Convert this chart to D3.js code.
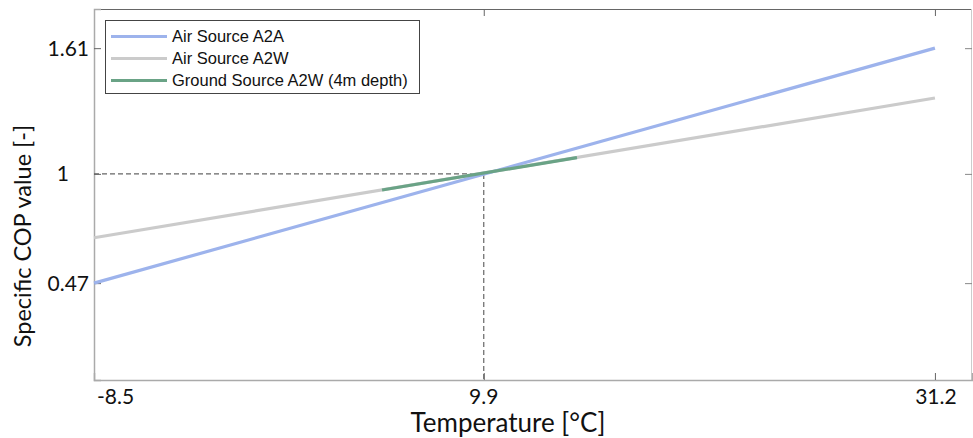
<!DOCTYPE html>
<html><head><meta charset="utf-8">
<script src="https://cdn.jsdelivr.net/npm/d3@7"></script>
<style>body{margin:0;background:#fff}svg{display:block}</style>
</head><body><svg id="c" width="973" height="438"></svg>
<script>
// Data
const xTicks = [-8.5, 9.9, 31.2];
const yTicks = [0.47, 1, 1.61];
const seriesNames = ["Air Source A2A", "Air Source A2W", "Ground Source A2W (4m depth)"];
const seriesColors = ["#9db3ec", "#cbcbcb", "#6aa386"];
const a2aX = [-8.5, 31.2];
const a2aY = [0.47, 1.61];
const a2wX = [-8.5, 31.2];
const a2wY = [0.69, 1.368];
const gsX = [5.1, 14.3];
const gsY = [0.922, 1.079];
const refX = 9.9, refY = 1;

const svg = d3.select("#c");
const L = 94, R = 972, T = 9, B = 380;
const x = d3.scaleLinear().domain([-8.5, 32.95]).range([L, R]);
const y = d3.scaleLinear().domain([0, 1.8]).range([B, T]);
const tickFont = "Lato, 'Open Sans', sans-serif";

// frame
svg.append("line").attr("x1", L).attr("x2", R).attr("y1", T + 0.5).attr("y2", T + 0.5).attr("stroke", "#666").attr("stroke-width", 1.2);
svg.append("line").attr("x1", R - 0.5).attr("x2", R - 0.5).attr("y1", T).attr("y2", B).attr("stroke", "#ccc");

// axes
const xAxis = d3.axisBottom(x).tickValues(xTicks).tickSize(-7).tickFormat("");
const gx = svg.append("g").attr("transform", `translate(0,${B})`).call(xAxis);
gx.select(".domain").attr("stroke", "#aaa").attr("stroke-width", 1.5);
gx.selectAll(".tick line").attr("stroke", "#666");
const xTop = d3.axisTop(x).tickValues(xTicks).tickSize(-7).tickFormat("");
const gxt = svg.append("g").attr("transform", `translate(0,${T})`).call(xTop);
gxt.select(".domain").remove();
gxt.selectAll(".tick line").attr("stroke", "#666");

const yAxis = d3.axisLeft(y).tickValues(yTicks).tickSize(-7).tickFormat("");
const gy = svg.append("g").attr("transform", `translate(${L},0)`).call(yAxis);
gy.select(".domain").attr("stroke", "#aaa").attr("stroke-width", 1.5);
gy.selectAll(".tick line").attr("stroke", "#666");
const yRight = d3.axisRight(y).tickValues(yTicks).tickSize(-7).tickFormat("");
const gyr = svg.append("g").attr("transform", `translate(${R},0)`).call(yRight);
gyr.select(".domain").remove();
gyr.selectAll(".tick line").attr("stroke", "#888");

// tick labels
const xLabelPos = {"-8.5": {dx: 3, anchor: "start"}, "9.9": {dx: 0, anchor: "middle"}, "31.2": {dx: 1, anchor: "middle"}};
xTicks.forEach(v => {
  const p = xLabelPos[String(v)];
  svg.append("text").attr("x", x(v) + p.dx).attr("y", 404).attr("text-anchor", p.anchor)
    .attr("font-family", tickFont).attr("font-size", 21).attr("fill", "#111").text(String(v));
});
const yLabelX = {"0.47": 89, "1": 69, "1.61": 89};
yTicks.forEach(v => {
  svg.append("text").attr("x", yLabelX[String(v)]).attr("y", y(v) + 7.5).attr("text-anchor", "end")
    .attr("font-family", tickFont).attr("font-size", 21).attr("fill", "#111").text(String(v));
});

// axis titles
svg.append("text").attr("x", 508).attr("y", 432).attr("text-anchor", "middle")
  .attr("font-family", tickFont).attr("font-size", 26).attr("fill", "#111").text("Temperature [°C]");
svg.append("text").attr("transform", "translate(31,236) rotate(-90)").attr("text-anchor", "middle")
  .attr("font-family", tickFont).attr("font-size", 23.5).attr("fill", "#111").text("Specific COP value [-]");

// dashed reference lines
svg.append("line").attr("x1", x(-8.5)).attr("x2", x(refX)).attr("y1", y(refY)).attr("y2", y(refY))
  .attr("stroke", "#666").attr("stroke-dasharray", "5,3").attr("stroke-width", 1.2);
svg.append("line").attr("x1", x(refX)).attr("x2", x(refX)).attr("y1", y(refY)).attr("y2", B)
  .attr("stroke", "#666").attr("stroke-dasharray", "5,3").attr("stroke-width", 1.2);

// series
const line = d3.line().x(d => x(d[0])).y(d => y(d[1]));
const series = [
  d3.zip(a2wX, a2wY),
  d3.zip(a2aX, a2aY),
  d3.zip(gsX, gsY)
];
const order = [1, 0, 2];
series.forEach((pts, i) => {
  svg.append("path").attr("d", line(pts)).attr("fill", "none")
    .attr("stroke", seriesColors[order[i]]).attr("stroke-width", 3.2);
});

// legend
const lg = svg.append("g");
lg.append("rect").attr("x", 105.5).attr("y", 20.5).attr("width", 314).attr("height", 73)
  .attr("fill", "#fff").attr("stroke", "#444").attr("stroke-width", 1);
seriesNames.forEach((n, i) => {
  const yy = 36.5 + i * 22;
  lg.append("line").attr("x1", 111).attr("x2", 167).attr("y1", yy).attr("y2", yy)
    .attr("stroke", seriesColors[i]).attr("stroke-width", 3.2);
  lg.append("text").attr("x", 172).attr("y", yy + 5.5).attr("font-family", "'Liberation Sans', Arial, sans-serif")
    .attr("font-size", 16.5).attr("fill", "#111").text(n);
});
</script></body></html>
